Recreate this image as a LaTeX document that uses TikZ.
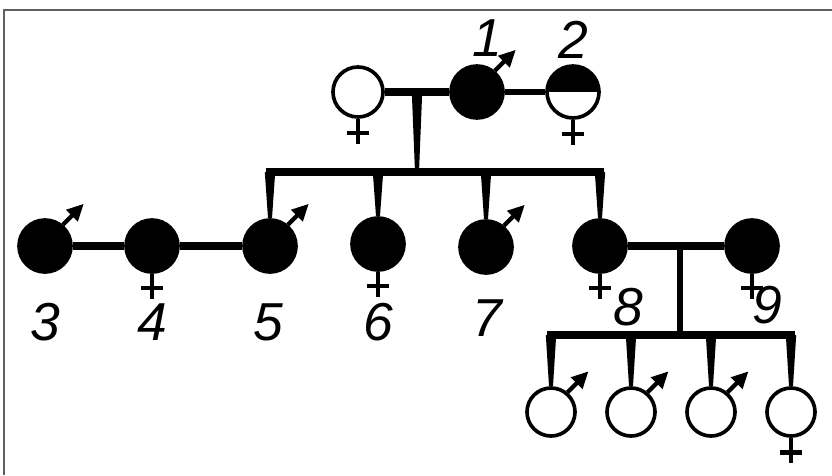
\documentclass[tikz,border=0pt]{standalone}
\usepackage{fontspec}
\newfontfamily\labfont{Liberation Sans}
\usetikzlibrary{arrows.meta,calc}
\newcommand\malemark[1]{\draw[malearr] (#1.50) -- ++(45:0.74cm);}
\newcommand\femmark[1]{%
  \draw[femsym] (#1.south) -- ++(0,-0.64cm);
  \draw[femsym] ($(#1.south)+(-0.28cm,-0.36cm)$) -- ++(0.56cm,0);}
\newcommand\taper[2]{%
  \fill ($(#1)+(-0.13cm,0)$) -- ($(#1)+(0.13cm,0)$) -- ($(#2)+(0.05cm,0)$) -- ($(#2)+(-0.05cm,0)$) -- cycle;}
\begin{document}
\begin{tikzpicture}[x=0.025cm,y=-0.025cm,
  person/.style={circle,draw=black,line width=2.6pt,inner sep=0pt,minimum size=1.3cm},
  aff/.style={person,fill=black},
  unaff/.style={person,fill=white},
  small/.style={minimum size=1.2cm},
  half/.style={person,fill=white,path picture={\fill[black] (path picture bounding box.north west) rectangle (path picture bounding box.east);}},
  mate/.style={line width=5.5pt},
  thinmate/.style={line width=4.3pt},
  sib/.style={line width=5.5pt,line cap=rect},
  malearr/.style={line width=3pt,-{Triangle[length=12pt,width=11pt]}},
  femsym/.style={line width=3.2pt},
  num/.style={font=\labfont\itshape\fontsize{38}{38}\selectfont,inner sep=0pt},
  framel/.style={draw=gray!75!black,line width=1.5pt}]

\useasboundingbox (0,0) rectangle (832,475);
\fill[white] (0,0) rectangle (832,475);
\draw[framel] (832,10) -- (4,10) -- (4,475);

% generation I
\node[unaff,minimum size=1.25cm] (f0) at (358,92) {};
\node[aff] (n1) at (477,92) {};
\node[half] (n2) at (573,92) {};
\malemark{n1}
\femmark{f0}
\femmark{n2}
\draw[mate] (f0) -- (n1);
\draw[thinmate] (n1) -- (n2);
\coordinate (m1) at (417,92);
\coordinate (t1) at (417,172);
\taper{m1}{t1}

% generation II
\node[aff] (n3) at (45,246) {};
\node[aff] (n4) at (152,246) {};
\node[aff] (n5) at (270,246) {};
\node[aff] (n6) at (378,244) {};
\node[aff] (n7) at (486,247) {};
\node[aff] (n8) at (600,246) {};
\node[aff] (n9) at (752,246) {};
\malemark{n3}
\malemark{n5}
\malemark{n7}
\femmark{n4}
\femmark{n6}
\femmark{n8}
\femmark{n9}
\draw[mate] (n3) -- (n4);
\draw[mate] (n4) -- (n5);
\draw[mate] (n8) -- (n9);

\coordinate (d5) at (270,172);
\coordinate (d6) at (378,172);
\coordinate (d7) at (486,172);
\coordinate (d8) at (600,172);
\draw[sib] (d5) -- (d8);
\taper{d5}{n5.north}
\taper{d6}{n6.north}
\taper{d7}{n7.north}
\taper{d8}{n8.north}

% generation III
\node[unaff,small] (c1) at (551,412) {};
\node[unaff,small] (c2) at (631,412) {};
\node[unaff,small] (c3) at (711,412) {};
\node[unaff,small] (c4) at (791,412) {};
\malemark{c1}
\malemark{c2}
\malemark{c3}
\femmark{c4}
\coordinate (m2) at (680,246);
\coordinate (t2) at (680,335);
\draw[line width=4pt] (m2) -- (t2);
\coordinate (e1) at (551,335);
\coordinate (e2) at (631,335);
\coordinate (e3) at (711,335);
\coordinate (e4) at (791,335);
\draw[sib] (e1) -- (e4);
\taper{e1}{c1.north}
\taper{e2}{c2.north}
\taper{e3}{c3.north}
\taper{e4}{c4.north}

% labels
\node[num] (l1) at (487,38) {1};
\node[num] (l2) at (573,40) {2};
\node[num] (l3) at (45,322) {3};
\node[num] (l4) at (152,322) {4};
\node[num] (l5) at (268,322) {5};
\node[num] (l6) at (378,322) {6};
\node[num] (l7) at (487,318) {7};
\node[num] (l8) at (628,307) {8};
\node[num] (l9) at (767,305) {9};
\end{tikzpicture}
\end{document}
